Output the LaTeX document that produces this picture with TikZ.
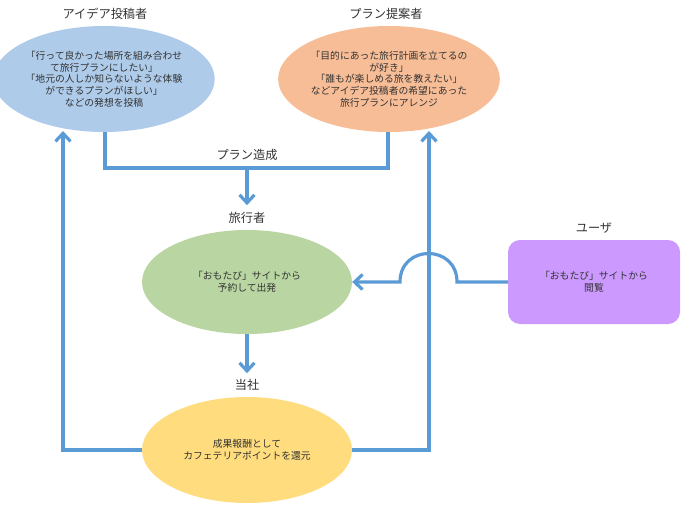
\documentclass[tikz,border=0pt]{standalone}
\usepackage{fontspec}
\newfontfamily\jp{Noto Sans CJK JP}
\usetikzlibrary{shapes.geometric,arrows.meta}
\definecolor{bblue}{HTML}{AECBEA}
\definecolor{borange}{HTML}{F7BD96}
\definecolor{bgreen}{HTML}{B9D6A2}
\definecolor{byellow}{HTML}{FFDC7E}
\definecolor{bpurple}{HTML}{CC99FF}
\definecolor{lineblue}{HTML}{5B9BD5}
\definecolor{txt}{HTML}{333333}
\begin{document}
\begin{tikzpicture}[x=1pt,y=-1pt,
  bub/.style={ellipse,minimum width=210pt,minimum height=106pt,inner sep=0pt,align=center,
    font=\jp\fontsize{9.8}{11.7}\selectfont,text=txt},
  ttl/.style={font=\jp\fontsize{12.2}{15}\selectfont,text=txt,inner sep=1pt},
  conn/.style={draw=lineblue,line width=3.2pt},
  arr/.style={conn,-{Straight Barb[length=8pt,width=15pt]}}]
\useasboundingbox[fill=white] (0,0) rectangle (688,504);

% titles
\node[ttl] (tidea) at (105,14) {アイデア投稿者};
\node[ttl] (tplan) at (386,14) {プラン提案者};
\node[ttl] (tzosei) at (247,155) {プラン造成};
\node[ttl] (ttrav) at (247,218) {旅行者};
\node[ttl] (tcomp) at (247,385) {当社};
\node[ttl] (tuser) at (594,228) {ユーザ};

% bubbles
\node[bub,fill=bblue] (idea) at (104,79) {「行って良かった場所を組み合わせ\\て旅行プランにしたい」\\「地元の人しか知らないような体験\\ができるプランがほしい」\\などの発想を投稿};
\node[bub,fill=borange] (plan) at (389,79) {「目的にあった旅行計画を立てるの\\が好き」\\「誰もが楽しめる旅を教えたい」\\などアイデア投稿者の希望にあった\\旅行プランにアレンジ};
\node[bub,fill=bgreen,minimum height=104pt] (trav) at (247,282) {「おもたび」サイトから\\予約して出発};
\node[bub,fill=byellow] (comp) at (247,450) {成果報酬として\\カフェテリアポイントを還元};
\node[draw=none,fill=bpurple,rounded corners=12pt,minimum width=172pt,minimum height=84pt,
  align=center,font=\jp\fontsize{9.8}{11.7}\selectfont,text=txt] (user) at (594,282) {「おもたび」サイトから\\閲覧};

% coordinates
\coordinate (jl) at (105,168);
\coordinate (jr) at (388,168);
\coordinate (jm) at (247,168);
\coordinate (ltop) at (63,131);
\coordinate (rtop) at (429,131);
\coordinate (bumpR) at (457,282);
\coordinate (bumpL) at (400,282);

% connectors
\draw[conn] (idea.south -| jl) -- (jl) -- (jr) -- (plan.south -| jr);
\draw[arr] (jm) -- ([yshift=6pt]ttrav.north);
\draw[arr] (trav.south) -- ([yshift=5pt]tcomp.north);
\draw[arr] (comp.west) -| (ltop);
\draw[arr] (comp.east) -| (rtop);
\draw[arr] (user.west) -- (bumpR) .. controls (457,244) and (400,244) .. (bumpL) -- (trav.east);
\end{tikzpicture}
\end{document}
